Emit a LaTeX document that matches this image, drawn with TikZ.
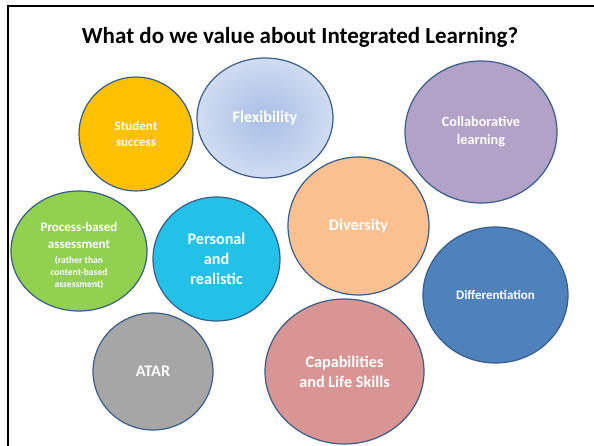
\documentclass[tikz,border=0pt]{standalone}
\usepackage{fontspec}
\setmainfont{Carlito}
\usetikzlibrary{shapes.geometric}
\definecolor{valoutline}{RGB}{56,93,138}
\definecolor{valorange}{RGB}{255,192,0}
\definecolor{valflexin}{RGB}{168,191,230}
\definecolor{valflexout}{RGB}{208,220,241}
\definecolor{valpurple}{RGB}{179,162,199}
\definecolor{valpeach}{RGB}{250,192,144}
\definecolor{valgreen}{RGB}{146,208,80}
\definecolor{valcyan}{RGB}{35,193,231}
\definecolor{valblue}{RGB}{79,129,189}
\definecolor{valgray}{RGB}{166,166,166}
\definecolor{valpink}{RGB}{217,149,148}

\begin{document}
\begin{tikzpicture}[
  x=1pt,y=-1pt,
  bubble/.style={ellipse,draw=valoutline,line width=1.2pt,inner sep=0pt,
                 text=white,align=center,font=\bfseries},
  big/.style={font=\fontsize{16.2}{20}\selectfont\bfseries},
  mid/.style={font=\fontsize{14.2}{18}\selectfont\bfseries},
  small/.style={font=\fontsize{13}{15.5}\selectfont\bfseries}
]
  \useasboundingbox (0,0) rectangle (594,446);
  \clip (0,0) rectangle (594,446);
  \draw[line width=2pt] (8,6) rectangle (620,470);
  \node[font=\fontsize{23}{27}\selectfont\bfseries] (title) at (300,37)
    {What do we value about Integrated Learning?};

  % top row
  \node[bubble,small,fill=valorange,minimum width=114pt,minimum height=114pt]
    (success) at (136,134) {Student\\success};
  \node[bubble,big,shading=radial,inner color=valflexin,outer color=valflexout,
        minimum width=136pt,minimum height=120pt] (flex) at (265,118) {Flexibility};
  \node[bubble,mid,fill=valpurple,minimum width=152pt,minimum height=142pt]
    (collab) at (481,132) {Collaborative\\learning};
  % middle row
  \node[bubble,fill=valgreen,minimum width=136pt,minimum height=120pt]
    (process) at (79,251) {};
  \node[text=white,align=center,font=\bfseries] (processtext) at (79,256)
    {\fontsize{13}{16}\selectfont Process-based\\[5pt]
      \fontsize{13}{16}\selectfont assessment\\[3pt]
      \fontsize{9.6}{11}\selectfont (rather than\\
      \fontsize{9.6}{11}\selectfont content-based\\
      \fontsize{9.6}{11}\selectfont assessment)};
  \node[bubble,big,fill=valcyan,minimum width=127pt,minimum height=124pt]
    (personal) at (216.5,259) {Personal\\and\\realistic};
  \node[bubble,big,fill=valpeach,minimum width=141pt,minimum height=138pt]
    (diversity) at (358.5,226) {Diversity};
  \node[bubble,small,fill=valblue,minimum width=145pt,minimum height=136pt]
    (diff) at (495.5,295) {Differentiation};
  % bottom row
  \node[bubble,big,fill=valgray,minimum width=120pt,minimum height=117pt]
    (atar) at (153,371.5) {ATAR};
  \node[bubble,big,fill=valpink,minimum width=159pt,minimum height=145pt]
    (skills) at (344.5,371.5) {Capabilities\\and Life Skills};
\end{tikzpicture}
\end{document}
